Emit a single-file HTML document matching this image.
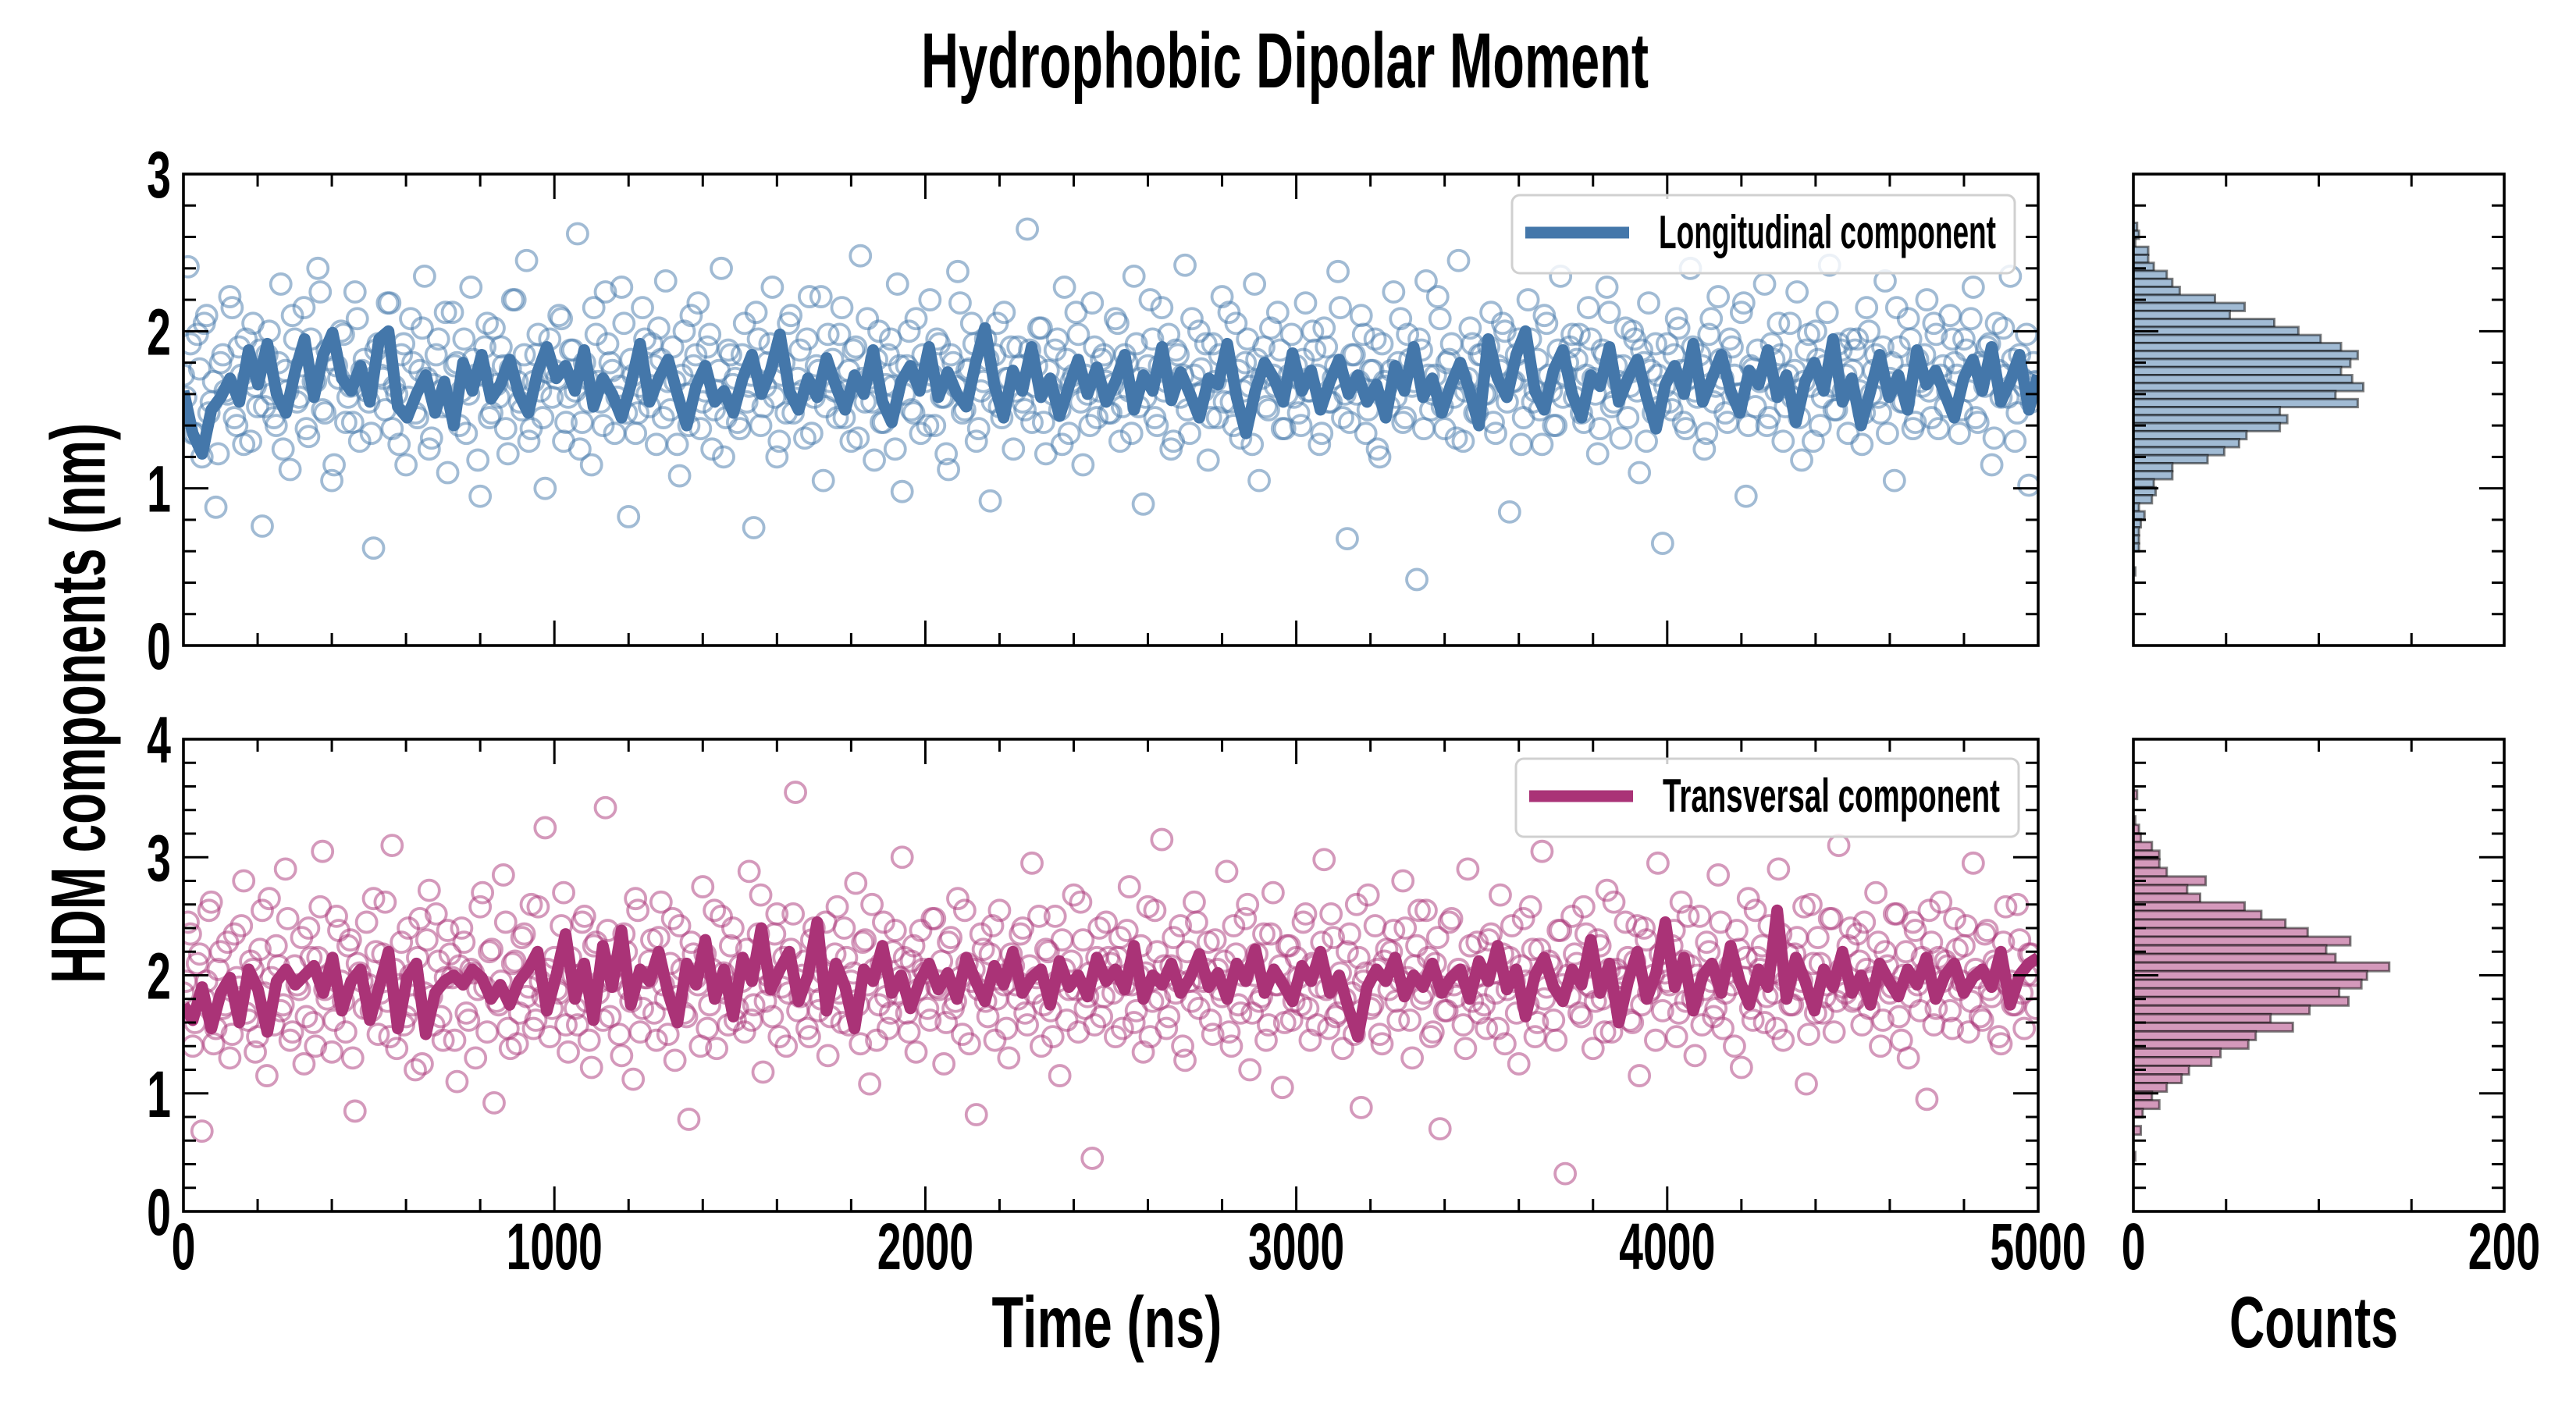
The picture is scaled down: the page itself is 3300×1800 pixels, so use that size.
<!DOCTYPE html>
<html><head><meta charset="utf-8"><title>Hydrophobic Dipolar Moment</title>
<style>html,body{margin:0;padding:0;background:#fff}svg{display:block}text{font-family:"Liberation Sans",sans-serif;font-weight:bold;fill:#000}</style>
</head><body>
<svg id="chart" xmlns="http://www.w3.org/2000/svg" width="3300" height="1800" viewBox="0 0 3300 1800">
<defs>
<clipPath id="clipTop"><rect x="235" y="223" width="2376" height="604"/></clipPath>
<clipPath id="clipBot"><rect x="235" y="947" width="2376" height="605"/></clipPath>
</defs>
<rect x="0" y="0" width="3300" height="1800" fill="#fff"/>
<text x="1646" y="112" font-size="100" text-anchor="middle" textLength="932" lengthAdjust="spacingAndGlyphs">Hydrophobic Dipolar Moment</text>
<text transform="translate(134,901) rotate(-90)" font-size="98" text-anchor="middle" textLength="718" lengthAdjust="spacingAndGlyphs">HDM components (nm)</text>
<text x="1418" y="1726" font-size="93" text-anchor="middle" textLength="295" lengthAdjust="spacingAndGlyphs">Time (ns)</text>
<text x="2964" y="1726" font-size="93" text-anchor="middle" textLength="216" lengthAdjust="spacingAndGlyphs">Counts</text>
<g id="layer"></g>
</svg>
<script>
// ---- data ----
const timeMax = 5000;
const longScatter = [
1.72,2.41,1.35,1.98,1.20,2.10,1.55,0.88,1.80,1.62,2.22,1.45,1.90,1.28,1.70,2.05,1.52,0.76,1.85,1.60,
1.40,2.30,1.75,1.12,1.95,1.58,2.15,1.33,1.68,2.40,1.50,1.88,1.05,1.78,2.00,1.42,1.65,2.25,1.30,1.82,
1.55,0.62,1.92,1.70,2.18,1.38,1.60,1.85,1.15,2.08,1.48,1.75,2.35,1.25,1.66,1.95,1.52,1.10,2.12,1.80,
1.62,1.35,2.28,1.72,0.95,1.90,1.45,2.02,1.58,1.78,1.22,2.20,1.68,1.50,2.45,1.38,1.85,1.62,1.00,1.95,
1.75,2.10,1.30,1.58,1.88,2.62,1.42,1.70,1.15,1.98,1.55,2.25,1.80,1.35,1.65,2.05,0.82,1.72,1.48,2.15,
1.60,1.92,1.28,1.82,2.32,1.50,1.68,1.08,2.00,1.40,1.78,2.18,1.55,1.90,1.25,1.62,2.40,1.45,1.85,1.70,
1.38,2.05,1.65,0.75,1.95,1.52,1.80,2.28,1.20,1.72,1.48,2.10,1.60,1.88,1.32,2.22,1.58,1.75,1.05,1.98,
1.82,1.45,2.15,1.62,1.30,1.90,2.48,1.55,1.70,1.18,2.00,1.42,1.85,1.65,2.30,0.98,1.78,1.50,2.08,1.35,
1.68,2.20,1.40,1.92,1.58,1.12,1.80,2.38,1.48,1.75,2.05,1.30,1.62,1.95,0.92,1.85,1.52,2.12,1.70,1.25,
1.90,1.55,2.65,1.42,1.78,2.02,1.22,1.65,1.88,1.50,2.28,1.35,1.72,1.98,1.15,1.60,2.18,1.45,1.82,1.68,
1.48,2.08,1.30,1.85,1.62,2.35,1.52,0.90,1.78,1.95,1.40,2.15,1.68,1.25,1.88,1.58,2.42,1.35,1.72,2.00,
1.62,1.18,1.92,1.45,2.22,1.75,1.55,2.05,1.32,1.80,1.65,2.30,1.05,1.90,1.50,1.72,2.12,1.38,1.60,1.98,
1.78,1.40,2.18,1.62,1.88,1.28,2.02,1.55,1.70,2.38,1.45,0.68,1.85,1.60,2.10,1.35,1.75,1.95,1.20,1.68,
1.52,2.25,1.80,1.42,1.98,1.65,0.42,1.88,2.32,1.50,1.72,2.08,1.38,1.82,1.58,2.45,1.30,1.70,1.92,1.48,
1.85,1.60,2.12,1.35,1.75,2.00,0.85,1.68,1.95,1.45,2.20,1.55,1.82,1.28,2.05,1.62,1.40,2.35,1.72,1.90,
1.58,1.98,1.42,2.15,1.70,1.22,1.88,2.28,1.52,1.78,1.32,2.02,1.65,1.95,1.10,1.80,2.18,1.48,1.72,0.65,
1.92,1.50,2.08,1.75,1.38,2.40,1.62,1.85,1.25,1.98,1.55,2.22,1.70,1.42,1.90,1.60,2.12,0.95,1.78,1.52,
1.68,2.30,1.45,1.82,2.05,1.30,1.72,1.58,2.25,1.18,1.88,1.65,2.00,1.40,1.78,2.42,1.50,1.92,1.62,1.35,
1.75,1.95,1.28,2.15,1.60,1.85,1.48,2.32,1.70,1.05,1.90,1.55,2.08,1.38,1.82,1.65,2.20,1.45,1.98,1.72,
1.52,2.10,1.80,1.35,1.95,1.62,2.28,1.42,1.78,1.90,1.15,2.05,1.58,1.72,2.35,1.30,1.85,1.65,1.02,1.80];
const longScatterB = [
1.58,1.92,1.35,1.76,2.05,1.48,1.68,1.22,1.85,1.60,2.15,1.40,1.72,1.95,1.30,1.65,1.88,1.52,2.00,1.45,
1.80,1.25,1.62,2.10,1.55,1.78,1.38,1.95,1.68,2.25,1.48,1.82,1.15,1.70,1.98,1.58,1.42,2.08,1.75,1.62,
1.35,1.88,1.72,1.50,2.18,1.65,1.28,1.92,1.58,1.80,1.45,2.02,1.70,1.32,1.85,1.62,2.12,1.52,1.78,1.40,
1.95,1.60,1.82,1.18,1.72,2.05,1.48,1.66,1.90,1.38,1.76,2.20,1.55,1.85,1.30,1.68,1.98,1.45,1.74,1.58,
1.70,2.08,1.42,1.88,1.62,1.25,1.80,1.55,2.15,1.68,1.40,1.92,1.75,1.58,2.28,1.48,1.82,1.35,1.65,1.95,
1.52,1.78,2.02,1.45,1.68,1.90,1.28,1.72,1.60,2.10,1.85,1.38,1.62,1.98,1.50,1.75,1.20,1.88,1.66,1.42,
1.85,1.55,1.72,2.12,1.40,1.65,1.92,1.58,1.30,1.80,2.05,1.48,1.70,1.62,1.95,1.35,1.78,2.22,1.52,1.68,
1.62,1.98,1.45,1.75,1.88,1.32,1.70,2.08,1.55,1.82,1.42,1.66,1.95,1.25,1.78,1.60,2.00,1.48,1.72,1.85,
1.40,1.72,1.95,1.58,1.22,1.85,1.65,2.18,1.50,1.76,1.92,1.38,1.68,1.82,1.55,2.05,1.45,1.70,1.90,1.62,
1.78,1.50,1.88,1.65,2.02,1.42,1.75,1.60,1.95,1.28,1.82,1.68,2.12,1.55,1.72,1.40,1.90,1.62,1.85,1.48,
1.66,2.05,1.52,1.80,1.35,1.92,1.70,1.58,2.20,1.45,1.78,1.62,1.98,1.30,1.85,1.72,1.50,2.08,1.60,1.76,
1.92,1.45,1.68,1.85,1.55,2.12,1.40,1.75,1.62,1.95,1.28,1.82,1.70,1.52,2.02,1.65,1.88,1.38,1.72,1.58,
1.48,1.82,1.62,2.00,1.72,1.35,1.90,1.55,1.78,2.15,1.60,1.42,1.85,1.68,1.98,1.50,1.75,1.25,1.92,1.65,
1.75,1.58,2.08,1.45,1.82,1.68,1.95,1.38,1.72,1.60,2.22,1.52,1.80,1.92,1.32,1.70,1.62,2.02,1.48,1.85,
1.60,1.90,1.42,1.78,2.05,1.55,1.68,1.85,1.28,1.75,1.95,1.62,1.50,2.10,1.72,1.40,1.88,1.58,1.80,1.98,
1.82,1.48,1.72,1.95,1.60,1.38,1.85,2.12,1.55,1.68,1.78,1.45,2.00,1.62,1.88,1.30,1.75,1.92,1.52,1.65,
1.55,1.85,2.02,1.42,1.70,1.90,1.58,1.78,1.35,2.08,1.65,1.82,1.48,1.95,1.72,1.60,2.18,1.40,1.76,1.88,
1.70,1.40,1.92,1.62,1.85,1.52,2.05,1.75,1.45,1.68,1.98,1.30,1.82,1.58,2.12,1.65,1.50,1.88,1.72,1.95,
1.88,1.62,1.48,2.00,1.75,1.58,1.90,1.35,1.80,2.15,1.55,1.72,1.95,1.42,1.68,1.85,1.62,2.05,1.38,1.78,
1.62,1.95,1.72,1.50,1.88,2.08,1.45,1.80,1.65,1.92,1.32,1.75,2.02,1.58,1.82,1.48,1.70,1.98,1.55,1.68];
const longAvg = [
1.62,1.35,1.22,1.50,1.58,1.70,1.55,1.88,1.66,1.92,1.60,1.48,1.75,1.95,1.58,1.85,1.99,1.70,1.62,1.78,
1.55,1.95,2.00,1.52,1.45,1.60,1.72,1.48,1.68,1.40,1.80,1.62,1.85,1.57,1.66,1.82,1.60,1.48,1.74,1.90,
1.70,1.78,1.62,1.88,1.52,1.70,1.60,1.45,1.66,1.92,1.55,1.70,1.82,1.60,1.40,1.65,1.78,1.55,1.62,1.48,
1.70,1.85,1.60,1.75,1.98,1.62,1.50,1.70,1.58,1.83,1.65,1.50,1.72,1.60,1.88,1.55,1.42,1.68,1.78,1.62,
1.90,1.58,1.74,1.60,1.52,1.80,2.02,1.66,1.45,1.75,1.62,1.90,1.58,1.70,1.46,1.65,1.82,1.60,1.77,1.55,
1.68,1.85,1.50,1.72,1.62,1.90,1.56,1.74,1.60,1.45,1.70,1.66,1.92,1.58,1.35,1.62,1.80,1.70,1.55,1.86,
1.62,1.75,1.50,1.68,1.82,1.60,1.72,1.55,1.66,1.45,1.78,1.62,1.90,1.58,1.70,1.48,1.66,1.80,1.62,1.40,
1.95,1.70,1.58,1.85,2.00,1.62,1.50,1.75,1.88,1.60,1.45,1.72,1.65,1.90,1.55,1.70,1.82,1.58,1.38,1.66,
1.78,1.60,1.92,1.55,1.70,1.85,1.62,1.48,1.75,1.66,1.88,1.58,1.72,1.42,1.68,1.80,1.62,1.95,1.55,1.70,
1.40,1.62,1.85,1.58,1.72,1.50,1.88,1.66,1.75,1.60,1.45,1.70,1.82,1.62,1.90,1.55,1.68,1.85,1.50,1.72];
const transScatter = [
1.85,2.45,1.40,2.10,0.68,1.95,2.62,1.55,2.20,1.75,1.30,2.35,1.90,2.80,1.62,2.05,1.48,2.55,1.15,1.98,
2.25,1.70,2.90,1.45,2.08,1.88,1.25,2.40,1.60,2.15,3.05,1.80,1.35,2.50,1.95,1.52,2.30,0.85,2.02,1.72,
1.92,2.65,1.50,2.18,1.78,3.10,1.38,2.28,1.65,2.00,1.20,2.48,1.85,2.72,1.58,2.12,1.45,2.38,1.98,1.10,
2.40,1.68,2.05,1.30,2.58,1.90,2.20,0.92,1.75,2.85,1.55,2.10,1.42,2.32,1.82,2.60,1.62,1.95,3.25,1.48,
2.15,1.85,2.70,1.35,2.00,1.58,2.45,1.78,1.22,2.28,1.95,3.42,1.65,2.08,1.50,2.35,1.88,1.12,2.55,1.72,
1.98,2.30,1.45,2.62,1.80,2.10,1.28,2.42,1.68,0.78,2.18,1.92,2.75,1.55,2.05,1.38,2.50,1.85,2.25,1.62,
2.08,1.52,2.88,1.75,2.35,1.18,2.00,1.65,2.52,1.90,1.40,2.22,3.55,1.82,2.12,1.48,2.40,1.70,2.02,1.32,
1.88,2.58,1.60,2.15,1.95,2.78,1.42,2.30,1.08,2.05,1.75,2.45,1.55,2.20,1.85,3.00,1.68,2.12,1.35,2.38,
2.02,1.62,2.48,1.88,1.25,2.28,1.72,2.65,1.50,2.10,1.95,0.82,2.35,1.78,2.18,1.45,2.55,1.92,1.30,2.08,
1.80,2.40,1.58,2.95,1.98,1.40,2.22,1.70,2.50,1.15,2.05,1.88,2.68,1.52,2.30,1.82,0.45,2.15,1.65,2.45,
2.10,1.48,2.32,1.92,2.75,1.60,2.00,1.35,2.58,1.78,2.20,3.15,1.55,2.08,1.85,2.42,1.28,1.95,2.62,1.72,
1.95,2.28,1.50,2.05,1.82,2.88,1.40,2.18,1.68,2.48,1.20,2.00,1.78,2.35,1.58,2.70,1.92,1.05,2.25,1.62,
2.15,1.75,2.52,1.45,2.08,1.90,2.98,1.55,2.32,1.68,1.38,2.20,1.85,2.60,0.88,2.02,1.72,2.42,1.50,2.12,
1.88,2.38,1.62,2.80,1.98,1.30,2.25,1.80,2.55,1.48,2.10,0.70,1.70,2.45,1.92,2.05,1.58,2.90,1.78,2.28,
2.00,1.55,2.35,1.85,2.68,1.42,2.15,1.95,1.25,2.48,1.75,2.22,1.60,3.05,1.90,2.08,1.45,2.38,0.32,1.82,
2.18,1.68,2.58,1.92,1.38,2.30,1.80,2.72,1.52,2.05,1.98,2.45,1.62,2.12,1.15,2.40,1.85,2.00,2.95,1.70,
1.95,2.25,1.48,2.62,1.78,2.08,1.32,2.50,1.88,2.20,1.65,2.85,1.55,2.02,1.92,2.38,1.22,2.15,1.72,2.55,
2.05,1.60,2.42,1.85,2.90,1.45,2.18,1.75,2.32,1.95,1.08,2.60,1.68,2.10,1.82,2.48,1.52,3.10,1.90,2.25,
1.78,2.35,1.58,2.05,1.95,2.70,1.40,2.20,1.85,2.52,1.65,2.00,1.30,2.45,1.92,2.15,0.95,2.28,1.72,2.62,
2.12,1.70,2.48,1.88,2.25,1.52,2.95,1.98,1.62,2.38,1.82,2.08,1.42,2.58,1.95,1.75,2.30,1.55,2.18,2.00];
const transScatterB = [
1.95,2.35,1.60,2.18,1.80,2.55,1.42,2.05,1.72,2.28,1.50,1.98,2.42,1.68,2.12,1.35,2.22,1.85,2.65,1.58,
2.08,1.75,2.48,1.52,1.92,2.32,1.65,2.15,1.40,2.58,1.88,2.00,1.62,2.38,1.78,2.25,1.30,2.10,1.95,2.45,
1.70,2.20,1.85,2.62,1.48,2.05,1.92,1.58,2.40,1.75,2.15,1.25,2.30,1.82,2.52,1.65,1.98,2.18,1.45,2.08,
2.28,1.62,2.02,1.88,2.70,1.52,2.22,1.78,1.95,2.45,1.38,2.12,1.68,2.35,1.90,1.55,2.58,1.82,2.05,1.72,
1.88,2.42,1.58,2.15,1.72,2.00,2.50,1.45,2.25,1.85,1.62,2.38,1.95,2.08,1.32,2.20,1.78,2.65,1.52,1.98,
2.12,1.68,2.32,1.92,1.50,2.48,1.82,2.05,1.65,2.28,1.98,1.40,2.18,1.75,2.55,1.88,2.02,1.58,2.40,1.72,
1.95,2.22,1.62,2.05,2.68,1.78,1.92,2.35,1.48,2.15,1.85,2.52,1.70,2.00,1.55,2.30,1.95,1.80,2.45,1.65,
2.18,1.85,2.40,1.58,2.02,1.75,2.28,1.92,2.60,1.45,2.10,1.82,1.68,2.38,1.98,2.15,1.52,2.25,1.88,2.05,
1.72,2.48,1.90,2.12,1.60,2.32,1.78,1.98,2.55,1.42,2.05,1.88,2.22,1.65,2.42,1.80,2.00,1.55,2.18,1.92,
2.35,1.68,2.08,1.85,2.50,1.75,2.20,1.48,1.95,2.30,1.62,2.12,1.88,2.62,1.72,2.02,1.58,2.40,1.82,2.15,
1.85,2.15,1.55,2.38,1.92,1.70,2.25,2.02,1.48,2.55,1.80,2.08,1.65,2.32,1.95,1.40,2.20,1.78,2.45,1.98,
2.05,1.62,2.30,1.88,2.12,1.52,2.42,1.75,2.00,2.60,1.68,2.18,1.82,1.45,2.35,1.92,2.08,1.60,2.25,1.78,
1.98,2.45,1.72,2.10,1.58,2.28,1.88,2.52,1.65,2.02,1.80,2.35,1.50,2.15,1.95,2.68,1.75,2.05,1.42,2.22,
2.20,1.78,1.95,2.40,1.62,2.08,2.55,1.85,2.15,1.52,2.32,1.90,1.70,2.48,1.82,2.00,1.38,2.25,1.98,1.68,
1.75,2.30,2.02,1.55,2.18,1.88,2.42,1.68,2.08,1.95,2.58,1.48,2.22,1.80,2.12,1.62,2.38,1.92,2.00,2.50,
2.10,1.65,2.35,1.90,1.78,2.25,1.52,2.05,2.62,1.85,1.98,2.15,1.60,2.42,1.75,2.30,1.88,1.45,2.18,2.02,
1.92,2.38,1.68,2.12,2.50,1.80,2.00,1.58,2.28,1.95,1.72,2.45,1.85,2.08,1.40,2.22,1.98,2.65,1.62,2.15,
2.25,1.82,2.02,1.55,2.35,1.95,1.75,2.18,1.88,2.58,1.50,2.10,2.32,1.68,1.92,2.48,1.78,2.05,1.85,2.40,
1.80,2.12,2.45,1.72,1.98,2.28,1.62,2.08,1.90,2.52,1.45,2.20,1.82,2.38,1.70,2.02,2.55,1.58,2.15,1.95,
2.08,1.55,2.22,1.95,2.42,1.78,2.05,1.65,2.35,1.88,2.12,1.48,2.28,1.92,1.75,2.60,1.85,2.00,2.18,1.72];
const transAvg = [
1.75,1.62,1.90,1.55,1.85,1.98,1.60,2.05,1.88,1.52,1.95,2.05,1.92,2.00,2.08,1.85,2.15,1.70,1.95,2.05,
1.62,1.90,2.20,1.55,1.98,2.10,1.50,1.85,1.95,2.00,1.92,2.05,1.98,1.80,1.92,1.75,1.95,2.05,2.20,1.70,
2.00,2.35,1.80,2.10,1.62,2.25,1.90,2.38,1.75,2.05,1.95,2.20,1.85,1.60,2.10,1.92,2.30,1.80,2.05,1.65,
2.15,1.95,2.40,1.88,2.05,2.20,1.78,2.00,2.45,1.70,2.10,1.90,1.55,2.05,1.95,2.25,1.85,2.00,1.72,1.95,
2.10,1.88,2.02,1.80,2.15,1.95,1.78,2.08,1.92,2.20,1.85,1.98,2.05,1.75,2.12,1.90,2.00,1.82,2.15,1.95,
2.05,1.88,2.25,1.80,2.00,1.92,2.10,1.85,1.98,2.18,1.90,2.02,1.80,2.10,1.95,2.22,1.85,2.05,1.92,1.78,
2.08,1.95,2.20,1.85,2.00,1.72,1.48,1.90,2.05,1.95,2.15,1.82,2.00,1.90,2.10,1.85,1.98,2.05,1.80,2.12,
1.95,2.25,1.88,2.05,1.65,2.00,2.15,1.90,1.78,2.05,1.92,2.30,1.85,2.10,1.60,1.95,2.20,1.80,2.02,2.45,
1.90,2.15,1.70,2.00,2.10,1.85,2.25,1.95,1.75,2.05,1.90,2.55,1.80,2.15,1.95,1.70,2.05,1.90,2.20,1.85,
2.00,1.75,2.10,1.95,1.82,2.05,1.92,2.15,1.80,2.00,2.10,1.85,1.98,2.05,1.90,2.20,1.75,2.00,2.10,2.15];
const longHistTop = 2.69;
const longHistWidth = 0.051;
const longHistCounts = [2,3,1,8,8,11,18,21,25,44,60,52,76,89,101,112,121,117,112,118,124,109,121,79,83,79,61,57,49,40,21,21,11,12,10,3,6,4,3,3,3,0,0,1];
const transHistTop = 3.566;
const transHistWidth = 0.0729;
const transHistCounts = [2,0,0,1,3,4,10,14,14,18,39,29,36,60,69,82,94,117,104,109,138,126,123,111,116,95,74,86,66,62,47,42,30,26,18,10,14,5,0,4,0,0,1];
const xTickLabels = ["0","1000","2000","3000","4000","5000"];
const xTickValues = [0,1000,2000,3000,4000,5000];
const topYTickLabels = ["0","1","2","3"];
const botYTickLabels = ["0","1","2","3","4"];
const countTickLabels = ["0","200"];
const countTickValues = [0,200];

// ---- layout ----
const NS = "http://www.w3.org/2000/svg";
const layer = document.getElementById("layer");
const X0 = 235, X1 = 2611;
const H0 = 2733, H1 = 3208;
const TOP = {y0:223, y1:827, max:3};
const BOT = {y0:947, y1:1552, max:4};
const xs = t => X0 + t / timeMax * (X1 - X0);
const hx = c => H0 + c / 200 * (H1 - H0);
const ys = (p, v) => p.y1 - v / p.max * (p.y1 - p.y0);

function mk(tag, attrs, parent) {
  const e = document.createElementNS(NS, tag);
  for (const k in attrs) e.setAttribute(k, attrs[k]);
  (parent || layer).appendChild(e);
  return e;
}
function grp(name) {
  const g = mk("g", {});
  
  
  return g;
}

function scatter(p, vals, offset, color, clip, name) {
  const g = grp(name);
  g.setAttribute("clip-path", "url(#" + clip + ")");
  const dt = timeMax / vals.length;
  vals.forEach((v, i) => {
    const c = mk("circle", {cx: xs(i * dt + offset * dt), cy: ys(p, v), r: 13, fill: "none", stroke: color, "stroke-width": 3.8}, g);
    
    
  });
}
function line(p, vals, color, clip, name) {
  const pts = vals.map((v, i) => xs(i * timeMax / (vals.length - 1)).toFixed(1) + "," + ys(p, v).toFixed(1)).join(" ");
  const l = mk("polyline", {points: pts, fill: "none", stroke: color, "stroke-width": 15, "stroke-linejoin": "round", "clip-path": "url(#" + clip + ")"});
  
  
}
function hist(p, counts, top, w, fill, name) {
  const g = grp(name);
  counts.forEach((c, i) => {
    if (c <= 0) return;
    const hi = top - i * w, lo = hi - w;
    const yTop = ys(p, hi), yBot = ys(p, lo);
    const r = mk("rect", {x: H0, y: yTop, width: hx(c) - H0, height: yBot - yTop, fill: fill, stroke: "rgba(0,0,0,0.5)", "stroke-width": 3}, g);
    
    
  });
}
function tickLabel(x, y, s, anchor, name) {
  const t = mk("text", {transform: "translate(" + x + "," + y + ") scale(0.66,1)", "font-size": 84, "text-anchor": anchor});
  t.textContent = s;
  
  
}
function frame(p, xa, xb, name, isHist, showXLabels, yLabels) {
  const g = grp(name);
  const st = {stroke: "#000", "stroke-width": 3};
  for (let k = 0; k <= p.max * 5; k++) {
    const v = k / 5, y = ys(p, v), major = k % 5 === 0;
    const len = major ? 32 : 16;
    mk("line", Object.assign({x1: xa, x2: xa + len, y1: y, y2: y}, st), g);
    mk("line", Object.assign({x1: xb, x2: xb - len, y1: y, y2: y}, st), g);
  }
  if (!isHist) {
    for (let t = 0; t <= timeMax; t += 200) {
      const x = xs(t), len = t % 1000 === 0 ? 32 : 16;
      mk("line", Object.assign({x1: x, x2: x, y1: p.y1, y2: p.y1 - len}, st), g);
      mk("line", Object.assign({x1: x, x2: x, y1: p.y0, y2: p.y0 + len}, st), g);
    }
  } else {
    for (let c = 0; c <= 200; c += 50) {
      const x = hx(c), len = (c % 200 === 0) ? 32 : 16;
      mk("line", Object.assign({x1: x, x2: x, y1: p.y1, y2: p.y1 - len}, st), g);
      mk("line", Object.assign({x1: x, x2: x, y1: p.y0, y2: p.y0 + len}, st), g);
    }
  }
  const box = mk("rect", {x: xa, y: p.y0, width: xb - xa, height: p.y1 - p.y0, fill: "none", stroke: "#000", "stroke-width": 3.6}, g);
  
  
  if (yLabels) yLabels.forEach((s, i) => tickLabel(xa - 16, ys(p, i) + 30, s, "end", "y-tick-label"));
  if (showXLabels) {
    if (!isHist) xTickValues.forEach((v, i) => tickLabel(xs(v), p.y1 + 74, xTickLabels[i], "middle", "x-tick-label"));
    else countTickValues.forEach((v, i) => tickLabel(hx(v), p.y1 + 74, countTickLabels[i], "middle", "count-tick-label"));
  }
}
function legend(x, y, w, h, color, label, name) {
  const g = grp(name);
  mk("rect", {x: x, y: y, width: w, height: h, rx: 10, fill: "rgba(255,255,255,0.8)", stroke: "#d0d0d0", "stroke-width": 3}, g);
  const s = mk("line", {x1: x + 17, x2: x + 150, y1: y + 48, y2: y + 48, stroke: color, "stroke-width": 15}, g);
  
  
  const t = mk("text", {x: x + 188, y: y + 68, "font-size": 60, textLength: 432, lengthAdjust: "spacingAndGlyphs"}, g);
  t.textContent = label;
  
  
}

const BLUE = "#4477aa", PURP = "#aa3377";
scatter(TOP, longScatter, 0, "rgba(68,119,170,0.5)", "clipTop", "longitudinal-scatter");
scatter(TOP, longScatterB, 0.5, "rgba(68,119,170,0.5)", "clipTop", "longitudinal-scatter-b");
line(TOP, longAvg, BLUE, "clipTop", "longitudinal-running-mean");
scatter(BOT, transScatter, 0, "rgba(170,51,119,0.5)", "clipBot", "transversal-scatter");
scatter(BOT, transScatterB, 0.5, "rgba(170,51,119,0.5)", "clipBot", "transversal-scatter-b");
line(BOT, transAvg, PURP, "clipBot", "transversal-running-mean");
hist(TOP, longHistCounts, longHistTop, longHistWidth, "#a1bbd4", "longitudinal-histogram");
hist(BOT, transHistCounts, transHistTop, transHistWidth, "#d499bb", "transversal-histogram");
frame(TOP, X0, X1, "top-time-axes", false, false, topYTickLabels);
frame(BOT, X0, X1, "bottom-time-axes", false, true, botYTickLabels);
frame(TOP, H0, H1, "top-hist-axes", true, false, null);
frame(BOT, H0, H1, "bottom-hist-axes", true, true, null);
legend(1937, 250, 644, 100, BLUE, "Longitudinal component", "legend-longitudinal");
legend(1942, 972, 644, 100, PURP, "Transversal component", "legend-transversal");
</script>
</body></html>
